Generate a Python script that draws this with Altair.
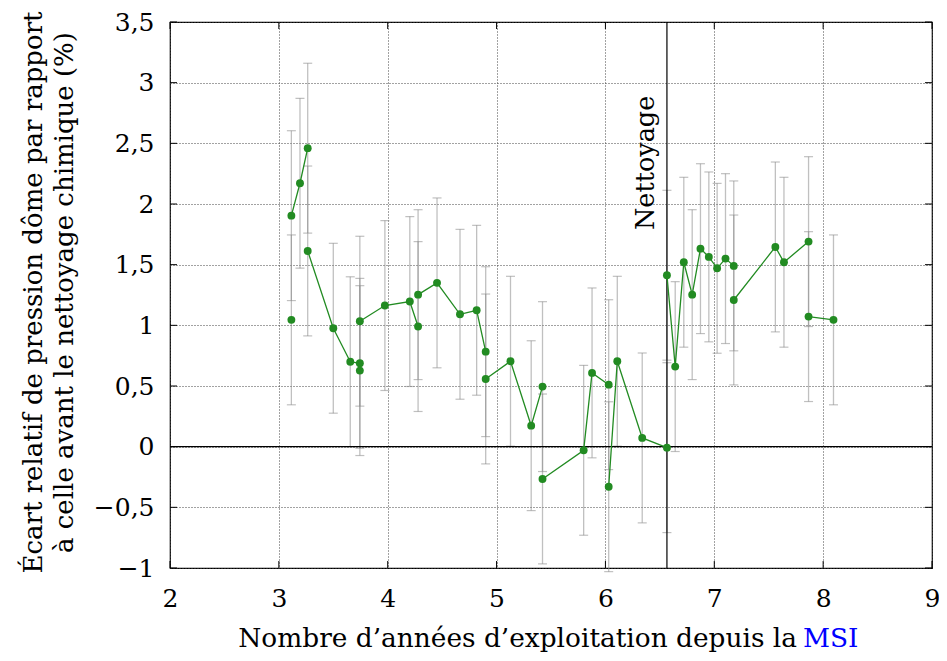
import altair as alt
import pandas as pd

# ---- data ----
years = [3.115, 3.115, 3.194, 3.265, 3.265, 3.50, 3.656, 3.744, 3.744, 3.744,
         3.974, 4.203, 4.279, 4.279, 4.453, 4.664, 4.817, 4.90, 4.90, 5.128,
         5.318, 5.422, 5.422, 5.80, 5.877, 6.03, 6.03, 6.109, 6.338, 6.565,
         6.565, 6.641, 6.72, 6.797, 6.873, 6.95, 7.026, 7.103, 7.179, 7.179,
         7.561, 7.64, 7.866, 7.866, 8.095]
ecart = [1.045, 1.904, 2.171, 2.46, 1.613, 0.976, 0.70, 0.687, 0.627, 1.034,
         1.163, 1.196, 0.99, 1.253, 1.35, 1.091, 1.124, 0.783, 0.558, 0.704,
         0.173, 0.495, -0.266, -0.03, 0.608, 0.511, -0.33, 0.704, 0.072, -0.008,
         1.413, 0.66, 1.52, 1.253, 1.632, 1.564, 1.47, 1.55, 1.49, 1.209,
         1.646, 1.52, 1.69, 1.072, 1.045]
incert = [0.7, 0.7, 0.7, 0.7, 0.7, 0.7, 0.7, 0.7, 0.7, 0.7,
          0.7, 0.7, 0.7, 0.7, 0.7, 0.7, 0.7, 0.7, 0.7, 0.7,
          0.7, 0.7, 0.7, 0.7, 0.7, 0.7, 0.7, 0.7, 0.7, 0.7,
          0.7, 0.7, 0.7, 0.7, 0.7, 0.7, 0.7, 0.7, 0.7, 0.7,
          0.7, 0.7, 0.7, 0.7, 0.7]
# connected line pieces as seen in the reference
segment = [0, 1, 1, 1, 2, 2, 2, 2, 3, 4,
           4, 4, 4, 5, 5, 5, 5, 5, 6, 6,
           6, 6, 7, 7, 7, 7, 8, 8, 8, 8,
           9, 9, 9, 9, 9, 9, 9, 9, 9, 10,
           10, 10, 10, 11, 11]
x_ticks = [2, 3, 4, 5, 6, 7, 8, 9]
y_ticks = [-1, -0.5, 0, 0.5, 1, 1.5, 2, 2.5, 3, 3.5]
nettoyage_x = [6.565]
zero_y = [0]
x_title = ["Nombre d\u2019ann\u00e9es d\u2019exploitation depuis la"]
x_title_msi = ["MSI"]
y_title = ["\u00c9cart relatif de pression d\u00f4me par rapport",
           "\u00e0 celle avant le nettoyage chimique (%)"]
annot = ["Nettoyage"]

FONT = "DejaVu Serif"
GREEN = "#228b22"
W, H = 762, 546

df = pd.DataFrame({"x": years, "y": ecart, "e": incert, "seg": segment})
df["lo"] = df["y"] - df["e"]
df["hi"] = df["y"] + df["e"]
df["i"] = range(len(df))

xscale = alt.Scale(domain=[2, 9], nice=False, zero=False)
yscale = alt.Scale(domain=[-1, 3.5], nice=False, zero=False)

xaxis = alt.Axis(values=x_ticks, grid=True, gridDash=[1, 2], gridColor="#444",
                 gridWidth=1, ticks=False, domain=False, labelFont=FONT,
                 labelFontSize=25, labelColor="black", labelPadding=18,
                 labelFlush=False, title=None)
yaxis = alt.Axis(values=y_ticks, grid=True, gridDash=[1, 2], gridColor="#444",
                 gridWidth=1, ticks=False, domain=False, labelFont=FONT,
                 labelFontSize=25, labelColor="black", labelPadding=16,
                 labelFlush=False,
                 labelExpr="replace(format(datum.value, '~g'), '.', ',')",
                 title=y_title, titleFont=FONT, titleFontSize=26,
                 titleFontWeight="normal", titleColor="black",
                 titleLineHeight=31, titleAngle=270, titleAlign="center",
                 titleBaseline="bottom", titleX=-124, titleY=270)


def X(f):
    return alt.X(f, type="quantitative", scale=xscale, axis=xaxis, title=None)


def Y(f):
    return alt.Y(f, type="quantitative", scale=yscale, axis=yaxis)


base = alt.Chart(df)

err_rule = base.mark_rule(color="#8c8c8c", opacity=0.55, strokeWidth=1.3).encode(
    x=X("x"), y=Y("lo"), y2="hi")
cap_lo = base.mark_tick(orient="horizontal", size=9, thickness=1.2,
                        color="#8c8c8c", opacity=0.55).encode(x=X("x"), y=Y("lo"))
cap_hi = base.mark_tick(orient="horizontal", size=9, thickness=1.2,
                        color="#8c8c8c", opacity=0.55).encode(x=X("x"), y=Y("hi"))

zero = alt.Chart(pd.DataFrame({"z": zero_y})).mark_rule(
    color="black", strokeWidth=1.3).encode(y=Y("z"))
clean = alt.Chart(pd.DataFrame({"n": nettoyage_x})).mark_rule(
    color="black", strokeWidth=1.2).encode(x=X("n"))
clean_txt = alt.Chart(pd.DataFrame({"n": nettoyage_x, "t": annot})).mark_text(
    angle=270, align="left", baseline="alphabetic", dy=-13, font=FONT,
    fontSize=25.5, color="black").encode(x=X("n"), y=alt.value(208), text="t:N")

line = base.mark_line(color=GREEN, strokeWidth=1.3).encode(
    x=X("x"), y=Y("y"), detail="seg:N", order="i:Q")
pts = base.mark_circle(color=GREEN, size=62, opacity=1).encode(x=X("x"), y=Y("y"))

yt = pd.DataFrame({"v": y_ticks})
xt = pd.DataFrame({"v": x_ticks})
tick_l = alt.Chart(yt).mark_rule(color="black").encode(
    y=Y("v"), x=alt.value(0), x2=alt.value(7))
tick_r = alt.Chart(yt).mark_rule(color="black").encode(
    y=Y("v"), x=alt.value(W - 7), x2=alt.value(W))
tick_b = alt.Chart(xt).mark_rule(color="black").encode(
    x=X("v"), y=alt.value(H - 7), y2=alt.value(H))
tick_t = alt.Chart(xt).mark_rule(color="black").encode(
    x=X("v"), y=alt.value(0), y2=alt.value(7))

xt1 = alt.Chart(pd.DataFrame({"t": x_title})).mark_text(
    align="right", baseline="alphabetic", font=FONT, fontSize=26.4,
    color="black").encode(x=alt.value(627), y=alt.value(625), text="t:N")
xt2 = alt.Chart(pd.DataFrame({"t": x_title_msi})).mark_text(
    align="left", baseline="alphabetic", font=FONT, fontSize=26.4,
    color="#0000ff").encode(x=alt.value(633), y=alt.value(625), text="t:N")

chart = alt.layer(
    err_rule, cap_lo, cap_hi, zero, clean, clean_txt, line, pts,
    tick_l, tick_r, tick_b, tick_t, xt1, xt2
).properties(
    width=W, height=H,
    autosize=alt.AutoSizeParams(type="none"),
    padding={"left": 162, "top": 14, "right": 7, "bottom": 85},
).configure_view(stroke="black", strokeWidth=1.2)

chart.save("out.html", embed_options={"renderer": "svg", "actions": False})
